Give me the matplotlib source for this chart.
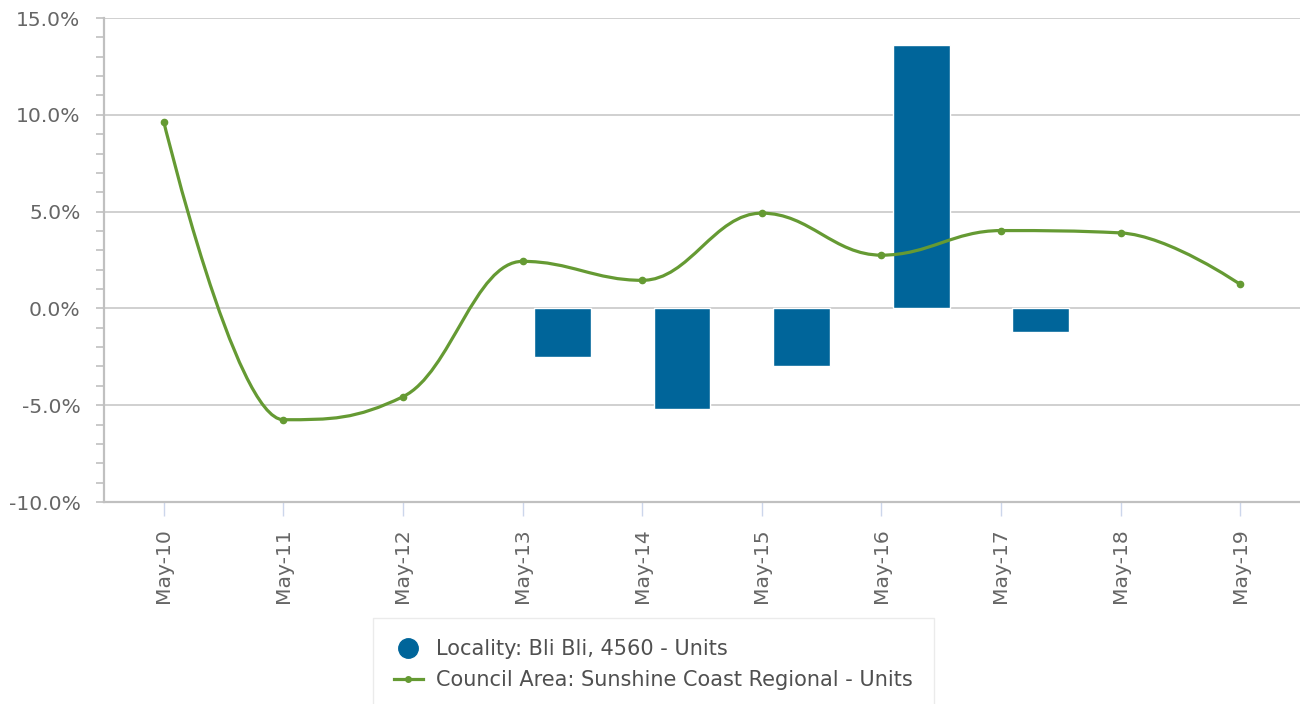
import matplotlib
matplotlib.use("Agg")
import matplotlib.pyplot as plt
from matplotlib.path import Path
from matplotlib.patches import PathPatch
from matplotlib.lines import Line2D
from matplotlib.ticker import MultipleLocator, FuncFormatter
import numpy as np

plt.rcParams["font.family"] = ["DejaVu Sans"]

categories = ["May-10", "May-11", "May-12", "May-13", "May-14",
              "May-15", "May-16", "May-17", "May-18", "May-19"]
locality = [None, None, None, -2.5, -5.2, -3.0, 13.6, -1.2, None, None]
council = [9.64, -5.75, -4.56, 2.43, 1.45, 4.92, 2.75, 4.02, 3.90, 1.24]

BLUE = "#00659a"
GREEN = "#659a33"
GREY_TXT = "#666666"
GRID = "#c8c8c8"
FS = 14.6


def spline_path(xs, ys, smoothing=1.5):
    # highcharts-like spline: bezier control points per point
    n = len(xs)
    lc = [(xs[i], ys[i]) for i in range(n)]
    rc = [(xs[i], ys[i]) for i in range(n)]
    d = smoothing + 1
    for i in range(1, n - 1):
        px, py = xs[i], ys[i]
        lx, ly = xs[i - 1], ys[i - 1]
        nx, ny = xs[i + 1], ys[i + 1]
        lcx = (smoothing * px + lx) / d
        lcy = (smoothing * py + ly) / d
        rcx = (smoothing * px + nx) / d
        rcy = (smoothing * py + ny) / d
        if rcx != lcx:
            corr = (rcy - lcy) * (rcx - px) / (rcx - lcx) + py - rcy
            lcy += corr
            rcy += corr
            if lcy > ly and lcy > py:
                lcy = max(ly, py)
                rcy = 2 * py - lcy
            elif lcy < ly and lcy < py:
                lcy = min(ly, py)
                rcy = 2 * py - lcy
            if rcy > ny and rcy > py:
                rcy = max(ny, py)
                lcy = 2 * py - rcy
            elif rcy < ny and rcy < py:
                rcy = min(ny, py)
                lcy = 2 * py - rcy
        lc[i] = (lcx, lcy)
        rc[i] = (rcx, rcy)
    verts = [(xs[0], ys[0])]
    codes = [Path.MOVETO]
    for i in range(1, n):
        verts += [rc[i - 1], lc[i], (xs[i], ys[i])]
        codes += [Path.CURVE4] * 3
    return Path(verts, codes)


fig = plt.figure(figsize=(13, 7.04), dpi=100)
ax = fig.add_axes([104 / 1300, 1 - 502 / 704, 1 - 104 / 1300, (502 - 18) / 704])

x = np.arange(len(categories))
bx = [i + 0.333 for i, v in enumerate(locality) if v is not None]
bv = [v for v in locality if v is not None]
ax.bar(bx, bv, width=0.476, color=BLUE, edgecolor="white", linewidth=1, zorder=2)

path = spline_path(list(x.astype(float)), council)
ax.add_patch(PathPatch(path, facecolor="none", edgecolor=GREEN, lw=2.3, zorder=3,
                       capstyle="round", joinstyle="round"))
ax.plot(x, council, "o", color=GREEN, ms=4.5, zorder=4)

ax.set_xlim(-0.5, 9.5)
ax.set_ylim(-10, 15)
ax.set_xticks(x)
ax.set_xticklabels(categories, rotation=90)
ax.yaxis.set_major_locator(MultipleLocator(5))
ax.yaxis.set_minor_locator(MultipleLocator(1))
ax.yaxis.set_major_formatter(FuncFormatter(lambda v, p: f"{v:.1f}%"))
ax.grid(axis="y", color=GRID, lw=1.2, zorder=0)
ax.set_axisbelow(True)

for s in ["top", "right"]:
    ax.spines[s].set_visible(False)
ax.spines["left"].set_color("#c0c0c0")
ax.spines["left"].set_linewidth(1.6)
ax.spines["bottom"].set_color("#c0c0c0")
ax.spines["bottom"].set_linewidth(1.6)

ax.tick_params(axis="y", which="major", length=6, width=1.2, color="#c0c0c0",
               labelsize=FS, labelcolor=GREY_TXT, pad=11)
ax.tick_params(axis="y", which="minor", length=6, width=1.2, color="#c0c0c0")
ax.tick_params(axis="x", length=10, width=1, color="#ccd6eb",
               labelsize=FS, labelcolor=GREY_TXT, pad=9)

handles = [
    Line2D([], [], ls="none", marker="o", ms=14, color=BLUE),
    Line2D([], [], color=GREEN, lw=2.3, marker="o", ms=4),
]
labels = ["Locality: Bli Bli, 4560 - Units",
          "Council Area: Sunshine Coast Regional - Units"]
leg = fig.legend(handles, labels, loc="upper center",
                 bbox_to_anchor=(653.5 / 1300, 1 - 618 / 704), frameon=True,
                 fontsize=15, labelcolor="#505050", handlelength=1.4,
                 handletextpad=0.65, borderpad=1.0, labelspacing=0.55,
                 borderaxespad=0, fancybox=False)
leg.get_frame().set_edgecolor("#e6e6e6")
leg.get_frame().set_linewidth(1)

fig.savefig("out.png", dpi=100)
